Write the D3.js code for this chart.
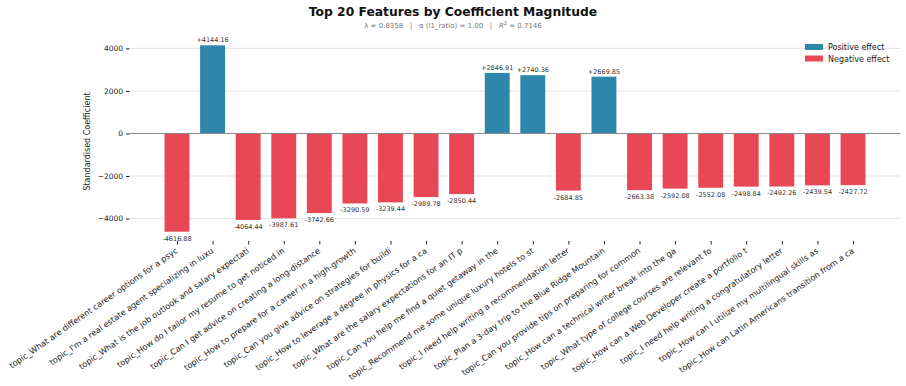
<!DOCTYPE html>
<html><head><meta charset="utf-8">
<script src="https://cdn.jsdelivr.net/npm/d3@7"></script>
<style>body{margin:0;background:#fff;font-family:"DejaVu Sans",sans-serif;}</style>
</head><body><svg id="c" width="906" height="386"></svg>
<script>
const features = [
"topic_What are different career options for a psyc",
"topic_I'm a real estate agent specializing in luxu",
"topic_What is the job outlook and salary expectati",
"topic_How do I tailor my resume to get noticed in",
"topic_Can I get advice on creating a long-distance",
"topic_How to prepare for a career in a high-growth",
"topic_Can you give advice on strategies for buildi",
"topic_How to leverage a degree in physics for a ca",
"topic_What are the salary expectations for an IT p",
"topic_Can you help me find a quiet getaway in the",
"topic_Recommend me some unique luxury hotels to st",
"topic_I need help writing a recommendation letter",
"topic_Plan a 3-day trip to the Blue Ridge Mountain",
"topic_Can you provide tips on preparing for common",
"topic_How can a technical writer break into the ga",
"topic_What type of college courses are relevant fo",
"topic_How can a Web Developer create a portfolio t",
"topic_I need help writing a congratulatory letter",
"topic_How can I utilize my multilingual skills as",
"topic_How can Latin Americans transition from a ca"];
const coefficients = [-4616.88,4144.16,-4064.44,-3987.61,-3742.66,-3290.59,-3239.44,-2989.78,-2850.44,2846.91,2740.36,-2684.85,2669.85,-2663.38,-2592.08,-2552.08,-2498.84,-2492.26,-2439.54,-2427.72];
const yTicks = [-4000,-2000,0,2000,4000];
const legendLabels = ["Positive effect","Negative effect"];
const posColor = "#2E86AB", negColor = "#E84855";

const svg = d3.select("#c");
const pL = 129.5, pR = 900.5, pT = 36, pB = 241;
const x = d3.scaleLinear().domain([-1.335, 20.335]).range([pL, pR]);
const y = d3.scaleLinear().domain([-5055, 4582]).range([pB, pT]);
const bw = x(0.35) - x(-0.35);

// title
svg.append("text").attr("x",453).attr("y",16).attr("text-anchor","middle")
  .style("font-size","12.3px").style("font-weight","bold").attr("fill","#111")
  .text("Top 20 Features by Coefficient Magnitude");
const sub = svg.append("text").attr("x",453).attr("y",28).attr("text-anchor","middle")
  .style("font-size","7px").style("white-space","pre").attr("xml:space","preserve").attr("fill","#777");
sub.append("tspan").text("λ = 0.8358   |   α (l1_ratio) = 1.00   |   ");
sub.append("tspan").style("font-style","italic").text("R");
sub.append("tspan").attr("dy",-3).style("font-size","5px").text("2");
sub.append("tspan").attr("dy",3).text(" = 0.7146");

// grid
svg.append("g").selectAll("line").data(yTicks).join("line")
  .attr("x1",pL).attr("x2",pR).attr("y1",d=>y(d)).attr("y2",d=>y(d))
  .attr("stroke","#dcdcdc").attr("stroke-width",0.8);

// y axis
const yAxis = svg.append("g").attr("transform",`translate(${pL},0)`)
  .call(d3.axisLeft(y).tickValues(yTicks).tickSize(3.5).tickPadding(3).tickFormat(d=>d<0?"\u2212"+Math.abs(d):d));
yAxis.select(".domain").remove();
yAxis.selectAll("text").style("font-size","7.5px").style("font-family","DejaVu Sans").attr("fill","#222");
yAxis.selectAll("line").attr("stroke","#222");

svg.append("text").attr("transform",`translate(90,${(pT+pB)/2+3}) rotate(-90)`)
  .attr("text-anchor","middle").style("font-size","8px").attr("fill","#222").text("Standardised Coefficient");

// bars
const idx = d3.range(features.length);
svg.append("g").selectAll("rect").data(idx).join("rect")
  .attr("x",i=>x(i)-bw/2).attr("width",bw)
  .attr("y",i=>y(Math.max(0,coefficients[i])))
  .attr("height",i=>Math.abs(y(coefficients[i])-y(0)))
  .attr("fill",i=>coefficients[i]>=0?posColor:negColor);

// zero line
svg.append("line").attr("x1",pL).attr("x2",pR).attr("y1",y(0)).attr("y2",y(0))
  .attr("stroke","#888").attr("stroke-width",1);

// value labels
svg.append("g").selectAll("text").data(idx).join("text")
  .attr("x",i=>x(i)).attr("y",i=>coefficients[i]>=0? y(coefficients[i])-3 : y(coefficients[i])+9)
  .attr("text-anchor","middle").style("font-size","6.5px").attr("fill","#333")
  .text(i=>(coefficients[i]>=0?"+":"")+coefficients[i].toFixed(2));

// x axis
const xAxis = svg.append("g").attr("transform",`translate(0,${pB})`)
  .call(d3.axisBottom(x).tickValues(idx).tickSize(3.5).tickFormat(i=>features[i]));
xAxis.select(".domain").remove();
xAxis.selectAll("line").attr("stroke","#222");
xAxis.selectAll("text").style("font-size","8.2px").style("font-family","DejaVu Sans").attr("fill","#222")
  .attr("text-anchor","end").attr("dy",null).attr("y",null)
  .attr("transform","translate(1,11) rotate(-35)");

// legend
const lg = svg.append("g").attr("transform","translate(805,44)");
[posColor,negColor].forEach((c,k)=>{
  lg.append("rect").attr("x",0).attr("y",k*11.5).attr("width",18).attr("height",6).attr("fill",c);
  lg.append("text").attr("x",23).attr("y",k*11.5+6).style("font-size","8px").attr("fill","#222").text(legendLabels[k]);
});
</script></body></html>
